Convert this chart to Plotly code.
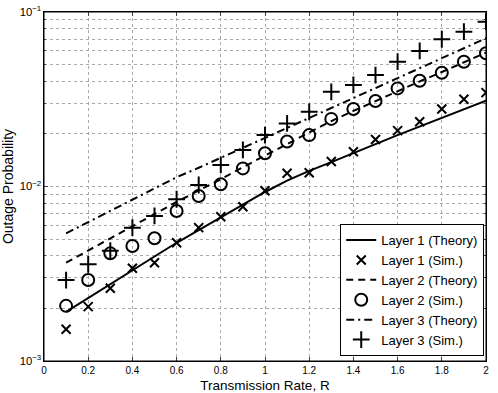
import plotly.graph_objects as go

# transmission rate R
rate = [0.1, 0.2, 0.3, 0.4, 0.5, 0.6, 0.7, 0.8, 0.9, 1.0,
        1.1, 1.2, 1.3, 1.4, 1.5, 1.6, 1.7, 1.8, 1.9, 2.0]

# layer 1
l1_theory = [1.91e-3, 2.30e-3, 2.74e-3, 3.30e-3, 3.97e-3, 4.76e-3, 5.63e-3, 6.69e-3, 7.88e-3, 9.30e-3,
             1.08e-2, 1.23e-2, 1.38e-2, 1.56e-2, 1.75e-2, 1.97e-2, 2.21e-2, 2.47e-2, 2.76e-2, 3.10e-2]
l1_sim = [1.52e-3, 2.05e-3, 2.61e-3, 3.40e-3, 3.66e-3, 4.76e-3, 5.81e-3, 6.71e-3, 7.66e-3, 9.46e-3,
          1.19e-2, 1.20e-2, 1.39e-2, 1.58e-2, 1.86e-2, 2.09e-2, 2.35e-2, 2.78e-2, 3.16e-2, 3.45e-2]

# layer 2
l2_theory = [3.66e-3, 4.30e-3, 5.04e-3, 5.94e-3, 6.96e-3, 8.15e-3, 9.49e-3, 1.10e-2, 1.29e-2, 1.51e-2,
             1.75e-2, 2.04e-2, 2.37e-2, 2.71e-2, 3.09e-2, 3.50e-2, 4.00e-2, 4.53e-2, 5.14e-2, 5.85e-2]
l2_sim = [2.07e-3, 2.91e-3, 4.14e-3, 4.56e-3, 5.05e-3, 7.24e-3, 8.82e-3, 1.03e-2, 1.27e-2, 1.55e-2,
          1.81e-2, 1.97e-2, 2.44e-2, 2.78e-2, 3.09e-2, 3.65e-2, 4.04e-2, 4.49e-2, 5.19e-2, 5.80e-2]

# layer 3
l3_theory = [5.39e-3, 6.25e-3, 7.24e-3, 8.39e-3, 9.73e-3, 1.13e-2, 1.28e-2, 1.46e-2, 1.67e-2, 1.90e-2,
             2.17e-2, 2.48e-2, 2.82e-2, 3.22e-2, 3.67e-2, 4.19e-2, 4.77e-2, 5.43e-2, 6.21e-2, 7.07e-2]
l3_sim = [2.91e-3, 3.58e-3, 4.29e-3, 5.81e-3, 6.78e-3, 8.45e-3, 1.02e-2, 1.33e-2, 1.62e-2, 1.97e-2,
          2.30e-2, 2.68e-2, 3.49e-2, 3.82e-2, 4.35e-2, 5.19e-2, 5.98e-2, 6.98e-2, 7.71e-2, 8.80e-2]

x_ticks = [0, 0.2, 0.4, 0.6, 0.8, 1, 1.2, 1.4, 1.6, 1.8, 2]
x_labels = ["0", "0.2", "0.4", "0.6", "0.8", "1", "1.2", "1.4", "1.6", "1.8", "2"]

black = "black"
fig = go.Figure()

fig.add_trace(go.Scatter(x=rate, y=l1_theory, mode="lines", name="Layer 1 (Theory)",
                         line=dict(color=black, width=2)))
fig.add_trace(go.Scatter(x=rate, y=l1_sim, mode="markers", name="Layer 1 (Sim.)",
                         marker=dict(symbol="x-thin-open", size=9, color=black,
                                     line=dict(color=black, width=2))))
fig.add_trace(go.Scatter(x=rate, y=l2_theory, mode="lines", name="Layer 2 (Theory)",
                         line=dict(color=black, width=2, dash="7px,5px")))
fig.add_trace(go.Scatter(x=rate, y=l2_sim, mode="markers", name="Layer 2 (Sim.)",
                         marker=dict(symbol="circle-open", size=12, color=black,
                                     line=dict(color=black, width=2))))
fig.add_trace(go.Scatter(x=rate, y=l3_theory, mode="lines", name="Layer 3 (Theory)",
                         line=dict(color=black, width=2, dash="8px,4px,2px,4px")))
fig.add_trace(go.Scatter(x=rate, y=l3_sim, mode="markers", name="Layer 3 (Sim.)",
                         marker=dict(symbol="cross-thin-open", size=12, color=black,
                                     line=dict(color=black, width=2))))

grid = dict(showgrid=True, gridcolor="#a8a8a8", griddash="dot", gridwidth=1)

fig.update_layout(
    width=498, height=393,
    margin=dict(l=44, r=12, t=12, b=32),
    paper_bgcolor="white", plot_bgcolor="white",
    font=dict(family="Liberation Sans, Arial, sans-serif", size=11, color=black),
    showlegend=True,
    legend=dict(x=0.996, y=0.014, xanchor="right", yanchor="bottom",
                bgcolor="white", bordercolor=black, borderwidth=1,
                font=dict(size=13), tracegroupgap=0, itemwidth=30),
    xaxis=dict(range=[0, 2], tickvals=x_ticks, ticktext=x_labels, automargin=False,
               title=dict(text="Transmission Rate, R", font=dict(size=13.5)),
               ticks="inside", ticklen=4, mirror="allticks", showline=True,
               linecolor=black, linewidth=1, tickfont=dict(size=10), zeroline=False, **grid),
    yaxis=dict(type="log", range=[-3, -1], dtick=1, exponentformat="power", automargin=False,
               title=dict(text="Outage Probability", font=dict(size=14)),
               ticks="inside", ticklen=4, mirror="allticks", showline=True,
               linecolor=black, linewidth=1, tickfont=dict(size=9), zeroline=False,
               minor=dict(dtick="D1", ticks="inside", ticklen=2, showgrid=True,
                          gridcolor="#a8a8a8", griddash="dot"),
               **grid),
)

# box round the axes
fig.add_shape(type="rect", xref="paper", yref="paper", x0=0, y0=0, x1=1, y1=1,
              line=dict(color=black, width=1), layer="above")

# no page margin, no scrollbars
page_js = ("document.body.style.margin='0';"
           "document.body.style.overflow='hidden';"
           "document.documentElement.style.overflow='hidden';")
fig.write_html("out.html", config={"displayModeBar": False}, post_script=page_js)
